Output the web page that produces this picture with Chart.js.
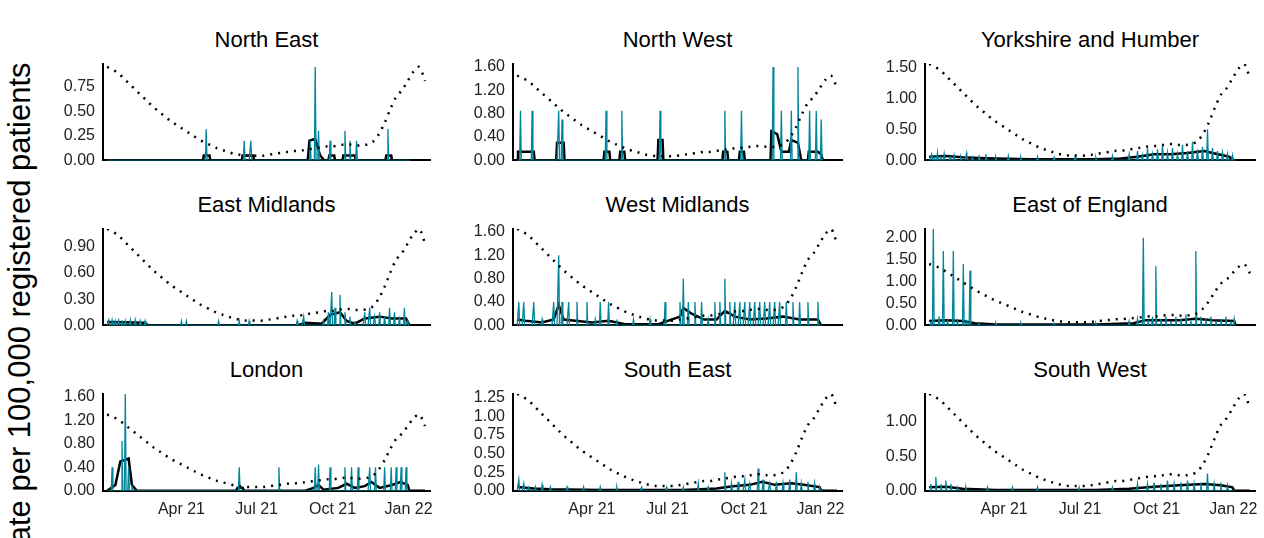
<!DOCTYPE html>
<html><head><meta charset="utf-8">
<script src="https://cdn.jsdelivr.net/npm/chart.js@4"></script>
<style>
body{margin:0;background:#fff;width:1264px;height:538px;overflow:hidden;position:relative;font-family:"Liberation Sans",Arial,sans-serif}
.p{position:absolute}
.t{position:absolute;text-align:center;font-size:22px;color:#000;white-space:nowrap}
#ytitle{position:absolute;left:-280px;top:290px;width:600px;text-align:center;transform:rotate(-90deg);font-size:31px;white-space:nowrap;line-height:36px}
</style></head><body>
<div id="ytitle">rate per 100,000 registered patients</div>
<script>
// days since 1 Jan 2021
const tickDays = [90, 181, 273, 365];
const tickLabels = ["Apr 21", "Jul 21", "Oct 21", "Jan 22"];
const lastDay = 385;

// national shape, weekly, scaled by panel peak
const dotShape = [1.00,.97,.93,.87,.81,.75,.69,.63,.57,.52,.47,.42,.38,.34,.30,.26,.22,.19,.16,.13,.11,.09,.07,.06,.05,.05,.05,.05,.06,.07,.08,.09,.10,.10,.11,.12,.13,.14,.15,.15,.16,.17,.17,.16,.16,.17,.20,.28,.40,.55,.68,.75,.85,.95,1.0,.85];

const regions = ["North East","North West","Yorkshire and Humber","East Midlands","West Midlands","East of England","London","South East","South West"];
const dotPeak = [0.95,1.45,1.55,1.1,1.65,1.4,1.3,1.3,1.4];
const yMax = [0.98,1.65,1.55,1.1,1.65,2.2,1.65,1.3,1.4];
const yStep = [0.25,0.4,0.5,0.3,0.4,0.5,0.4,0.25,0.5];

// daily spikes [day, rate]
const neSpikes = [[120,0.32],[166,0.2],[174,0.2],[246,0.2],[252,0.95],[256,0.3],[270,0.2],[288,0.3],[294,0.2],[302,0.2],[340,0.32]];
const nwSpikes = [[4,0.85],[18,0.85],[50,0.85],[54,0.7],[107,0.85],[126,0.85],[172,0.85],[250,0.85],[270,0.85],[308,1.6],[318,0.85],[330,0.85],[338,1.6],[352,0.85],[360,0.85],[366,0.7]];
const yhSpikes = [[3,0.1],[6,0.05],[10,0.12],[14,0.07],[18,0.1],[25,0.05],[30,0.08],[38,0.05],[45,0.12],[52,0.05],[60,0.06],[68,0.1],[80,0.05],[95,0.07],[110,0.05],[130,0.06],[150,0.05],[175,0.06],[200,0.05],[220,0.07],[240,0.1],[250,0.15],[256,0.08],[262,0.2],[268,0.1],[274,0.18],[280,0.25],[286,0.12],[292,0.2],[298,0.1],[304,0.25],[310,0.15],[316,0.3],[322,0.18],[328,0.22],[334,0.5],[340,0.2],[346,0.15],[352,0.12],[358,0.1],[364,0.08]];
const emSpikes = [[2,0.06],[6,0.06],[10,0.05],[14,0.06],[18,0.06],[22,0.05],[28,0.06],[34,0.06],[40,0.05],[46,0.05],[90,0.05],[96,0.05],[135,0.05],[160,0.05],[172,0.05],[230,0.05],[238,0.1],[262,0.05],[268,0.15],[272,0.38],[276,0.2],[282,0.35],[288,0.15],[294,0.1],[300,0.05],[312,0.15],[318,0.2],[324,0.1],[330,0.15],[336,0.1],[342,0.2],[348,0.15],[354,0.1],[360,0.2],[364,0.05]];
const wmSpikes = [[2,0.4],[8,0.4],[20,0.4],[30,0.1],[44,0.4],[50,1.2],[54,0.4],[62,0.4],[72,0.4],[84,0.4],[94,0.1],[100,0.4],[110,0.4],[120,0.1],[140,0.1],[160,0.1],[178,0.4],[196,0.4],[200,0.8],[206,0.4],[214,0.4],[222,0.4],[230,0.1],[238,0.4],[244,0.4],[250,0.8],[256,0.4],[262,0.4],[268,0.4],[274,0.4],[280,0.4],[286,0.4],[292,0.4],[298,0.4],[304,0.4],[310,0.4],[316,0.4],[324,0.4],[332,0.4],[340,0.4],[350,0.4],[362,0.4]];
const eeSpikes = [[2,0.1],[5,2.2],[12,0.2],[17,1.7],[22,0.1],[29,1.7],[34,0.1],[41,1.4],[45,0.1],[49,1.25],[60,0.05],[80,0.05],[110,0.05],[150,0.05],[200,0.05],[240,0.1],[250,0.15],[257,2.0],[263,0.1],[268,0.2],[272,1.35],[278,0.15],[284,0.2],[290,0.1],[296,0.2],[302,0.15],[308,0.25],[314,0.1],[320,1.7],[326,0.2],[332,0.15],[338,0.2],[344,0.1],[350,0.15],[356,0.2],[362,0.1],[366,0.15]];
const lnSpikes = [[6,0.4],[18,0.85],[22,1.65],[26,0.4],[30,0.1],[160,0.4],[208,0.4],[252,0.4],[256,0.45],[270,0.4],[288,0.4],[296,0.4],[304,0.4],[318,0.4],[325,0.4],[336,0.4],[344,0.4],[350,0.4],[356,0.4],[362,0.4]];
const seSpikes = [[2,0.15],[8,0.1],[14,0.05],[22,0.05],[30,0.08],[40,0.05],[60,0.05],[80,0.05],[100,0.05],[120,0.05],[150,0.05],[180,0.05],[200,0.05],[218,0.1],[230,0.05],[250,0.25],[258,0.1],[266,0.12],[274,0.15],[280,0.1],[290,0.3],[296,0.15],[304,0.1],[312,0.12],[320,0.1],[328,0.15],[336,0.25],[342,0.1],[350,0.12],[358,0.1],[364,0.05]];
const swSpikes = [[2,0.1],[8,0.2],[14,0.1],[20,0.15],[26,0.1],[34,0.05],[44,0.05],[70,0.05],[100,0.05],[130,0.05],[180,0.05],[220,0.05],[250,0.1],[262,0.1],[270,0.12],[278,0.1],[286,0.15],[294,0.1],[302,0.12],[310,0.15],[318,0.1],[326,0.12],[334,0.25],[342,0.1],[350,0.12],[358,0.08]];

// 7 day mean [day, rate]
const neMean = [[0,0],[116,0],[117,0.05],[124,0.05],[125,0],[163,0],[164,0.05],[177,0.05],[178,0],[243,0],[245,0.2],[252,0.22],[258,0.05],[263,0],[268,0],[269,0.05],[275,0.05],[276,0],[285,0],[286,0.05],[300,0.05],[301,0],[337,0],[338,0.05],[344,0.05],[345,0],[lastDay,0]];
const nwMean = [[0,0],[1,0.15],[20,0.15],[21,0],[47,0],[48,0.3],[56,0.3],[57,0],[104,0],[105,0.15],[111,0.15],[112,0],[123,0],[124,0.15],[129,0.15],[130,0],[169,0],[170,0.35],[175,0.35],[176,0],[247,0],[248,0.15],[253,0.15],[254,0],[267,0],[268,0.15],[273,0.15],[274,0],[305,0],[306,0.5],[313,0.45],[318,0.15],[327,0.15],[330,0.35],[338,0.3],[342,0],[350,0],[351,0.15],[362,0.15],[366,0.1],[368,0],[lastDay,0]];
const yhMean = [[0,0.06],[20,0.07],[40,0.05],[60,0.04],[80,0.03],[120,0.02],[160,0.02],[200,0.02],[230,0.03],[250,0.06],[270,0.1],[290,0.1],[310,0.12],[330,0.15],[340,0.12],[360,0.06],[366,0],[lastDay,0]];
const emMean = [[0,0.04],[45,0.03],[50,0],[230,0],[240,0.03],[260,0.02],[270,0.12],[282,0.15],[290,0.05],[300,0.02],[312,0.08],[330,0.1],[345,0.08],[362,0.08],[366,0],[lastDay,0]];
const wmMean = [[0,0.1],[10,0.08],[30,0.05],[44,0.1],[50,0.35],[56,0.1],[70,0.08],[90,0.05],[110,0.08],[130,0.02],[170,0.02],[196,0.15],[200,0.3],[210,0.2],[225,0.1],[240,0.1],[250,0.25],[262,0.15],[280,0.1],[300,0.12],[320,0.15],[340,0.1],[362,0.1],[366,0],[lastDay,0]];
const eeMean = [[0,0.1],[20,0.12],[40,0.1],[55,0.05],[80,0.02],[200,0.02],[245,0.05],[260,0.12],[280,0.12],[300,0.12],[320,0.15],[340,0.12],[366,0.1],[368,0],[lastDay,0]];
const lnMean = [[0,0],[10,0.1],[16,0.5],[26,0.55],[30,0.1],[36,0],[156,0],[158,0.05],[164,0.05],[166,0],[240,0],[250,0.05],[256,0.1],[262,0.02],[280,0.05],[290,0.12],[300,0.05],[312,0.08],[320,0.15],[330,0.05],[345,0.1],[355,0.15],[364,0.1],[366,0],[lastDay,0]];
const seMean = [[0,0.05],[20,0.03],[40,0.02],[100,0.01],[200,0.01],[240,0.03],[260,0.06],[280,0.08],[295,0.12],[310,0.08],[330,0.1],[345,0.08],[364,0.05],[366,0],[lastDay,0]];
const swMean = [[0,0.05],[20,0.06],[40,0.03],[80,0.01],[200,0.01],[240,0.03],[270,0.06],[300,0.08],[330,0.1],[350,0.08],[364,0.05],[366,0],[lastDay,0]];

const spikes = [neSpikes,nwSpikes,yhSpikes,emSpikes,wmSpikes,eeSpikes,lnSpikes,seSpikes,swSpikes];
const means = [neMean,nwMean,yhMean,emMean,wmMean,eeMean,lnMean,seMean,swMean];

const colLeft = [103, 513, 925];
const colRight = [430, 842, 1255];
const rowTop = [26, 191, 356];
const axisW = 60;

for (let i = 0; i < 9; i++) {
  const c = i % 3, r = Math.floor(i / 3);
  const bottomRow = r === 2;
  const title = document.createElement("div");
  title.className = "t";
  title.textContent = regions[i];
  title.style.left = colLeft[c] + "px";
  title.style.width = (colRight[c] - colLeft[c]) + "px";
  title.style.top = (rowTop[r] + 1) + "px";
  document.body.appendChild(title);

  const div = document.createElement("div");
  div.className = "p";
  div.style.left = (colLeft[c] - axisW) + "px";
  div.style.top = rowTop[r] + "px";
  div.style.width = (colRight[c] - colLeft[c] + axisW + 6) + "px";
  div.style.height = (bottomRow ? 166 : 147) + "px";
  const cv = document.createElement("canvas");
  div.appendChild(cv);
  document.body.appendChild(div);

  // daily series: zero except listed days
  const daily = [];
  const map = {};
  spikes[i].forEach(s => map[s[0]] = s[1]);
  for (let d = 0; d <= lastDay - 18; d++) daily.push({x: d, y: map[d] || 0});
  const dots = dotShape.map((v, k) => ({x: k * 7, y: v * dotPeak[i]}));
  const mean = means[i].map(p => ({x: p[0], y: p[1]}));

  new Chart(cv, {
    type: "line",
    data: {datasets: [
      {data: dots, borderColor: "#000", borderWidth: 2.5, borderDash: [2, 6], pointRadius: 0, tension: 0.3},
      {data: daily, borderColor: "#00859b", borderWidth: 1.3, pointRadius: 0},
      {data: mean, borderColor: "#000", borderWidth: 2.5, pointRadius: 0}
    ]},
    options: {
      animation: false, responsive: true, maintainAspectRatio: false,
      layout: {padding: {right: 6, top: 38, bottom: 0}},
      plugins: {legend: {display: false}, tooltip: {enabled: false}, title: {display: false}},
      scales: {
        x: {type: "linear", min: -5, max: 391, grid: {display: false, drawTicks: bottomRow, tickLength: 6, tickColor: "#000"},
          border: {color: "#000", width: 2},
          afterBuildTicks: ax => { ax.ticks = tickDays.map(v => ({value: v})); },
          ticks: {display: bottomRow, autoSkip: false, color: "#222", font: {size: 16, family: "Liberation Sans"}, maxRotation: 0,
            callback: v => tickLabels[tickDays.indexOf(v)]}},
        y: {min: 0, max: yMax[i], grid: {display: false, drawTicks: true, tickLength: 5, tickColor: "#000"},
          border: {color: "#000", width: 2},
          afterFit: ax => { ax.width = axisW; },
          afterBuildTicks: ax => { const t = []; for (let v = 0; v <= yMax[i] + 1e-9; v += yStep[i]) t.push({value: Math.round(v * 100) / 100}); ax.ticks = t; },
          ticks: {autoSkip: false, color: "#222", font: {size: 16, family: "Liberation Sans"}, callback: v => v.toFixed(2)}}
      }
    }
  });
}
</script>
</body></html>
